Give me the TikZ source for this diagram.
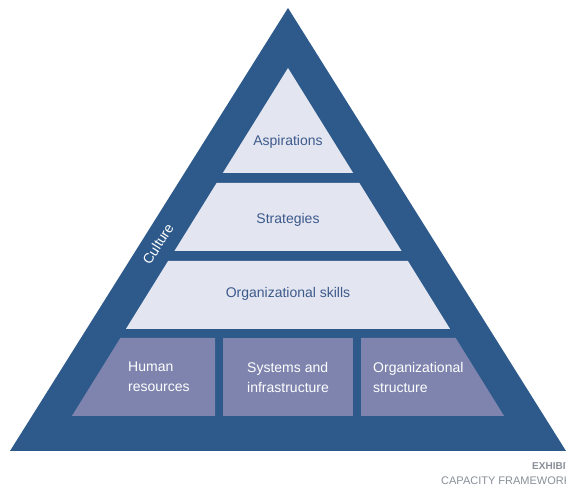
\documentclass[tikz,border=0pt]{standalone}
\usepackage{fontspec}
\setmainfont{Liberation Sans}
\definecolor{darkblue}{HTML}{2D5A8A}
\definecolor{lightfill}{HTML}{E3E6F0}
\definecolor{boxfill}{HTML}{7E84AE}
\definecolor{labelblue}{HTML}{3D5A8C}
\definecolor{graytext}{HTML}{8A8F99}
\begin{document}
\begin{tikzpicture}[x=1pt,y=-1pt,
  tier/.style={fill=lightfill},
  basebox/.style={fill=boxfill},
  tierlabel/.style={text=labelblue,font=\fontsize{14}{20}\selectfont,inner sep=0pt},
  boxlabel/.style={text=white,font=\fontsize{14}{20}\selectfont,align=left,inner sep=0pt,anchor=west},
  culturelabel/.style={text=white,font=\fontsize{14}{20}\selectfont,rotate=57.8,inner sep=0pt},
  exhibitlabel/.style={text=graytext,inner sep=0pt}]
\useasboundingbox (0,0) rectangle (566,489);
\fill[white] (0,0) rectangle (566,489);
% outer triangle (culture)
\fill[darkblue] (10,451) -- (288,8) -- (566,451) -- cycle;
% aspirations
\fill[tier] (288,68) -- (353.2,173) -- (222.8,173) -- cycle;
% strategies
\fill[tier] (216.6,183) -- (359.4,183) -- (401.6,251) -- (174.4,251) -- cycle;
% organizational skills
\fill[tier] (168.1,261) -- (407.9,261) -- (450.1,329) -- (125.9,329) -- cycle;
% bottom row
\fill[basebox] (120.3,338) -- (215,338) -- (215,416) -- (71.9,416) -- cycle;
\fill[basebox] (223,338) -- (353,338) -- (353,416) -- (223,416) -- cycle;
\fill[basebox] (361,338) -- (455.7,338) -- (504.1,416) -- (361,416) -- cycle;
% labels
\node[tierlabel] (asp) at (288,142) {Aspirations};
\node[tierlabel] (str) at (288,220) {Strategies};
\node[tierlabel] (orgskills) at (288,294) {Organizational skills};
\node[boxlabel] (hr) at (128,377) {Human\\resources};
\node[boxlabel] (sys) at (247,377) {Systems and\\infrastructure};
\node[boxlabel] (orgstruct) at (373,377) {Organizational\\structure};
\node[culturelabel] (culture) at (158,244) {Culture};
% exhibit caption (clipped at right edge)
\begin{scope}
\clip (0,0) rectangle (566,489);
\node[exhibitlabel,anchor=base west,font=\bfseries\fontsize{10}{12}\selectfont] (exhibit) at (532,470) {EXHIBIT};
\node[exhibitlabel,anchor=base west,font=\fontsize{11}{13}\selectfont] (caption) at (441,485) {CAPACITY FRAMEWORK};
\end{scope}
\end{tikzpicture}
\end{document}
